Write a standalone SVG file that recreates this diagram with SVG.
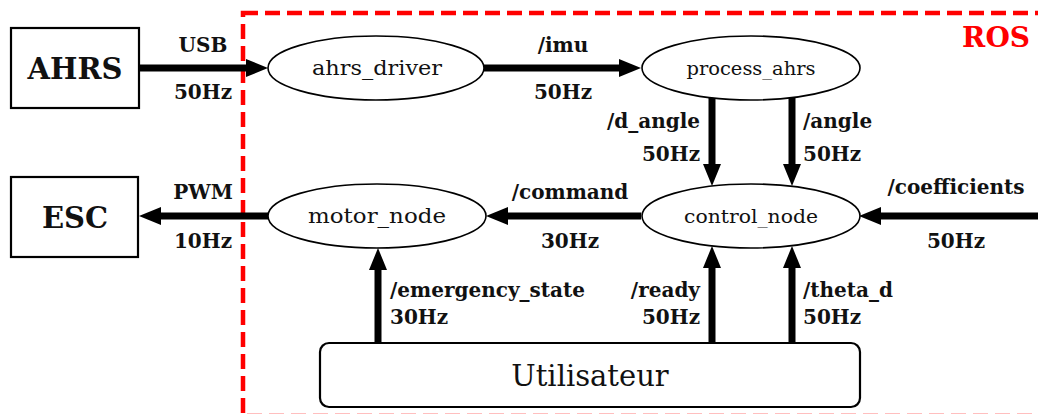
<svg xmlns="http://www.w3.org/2000/svg" width="1038" height="414" viewBox="0 0 1038 414">
<defs>
<style>
.box{fill:#fff;stroke:#000;stroke-width:2.2}
.ell{fill:#fff;stroke:#000;stroke-width:1.6}
.lbl{font-family:"DejaVu Serif","Liberation Serif",serif;font-weight:bold;font-size:20px;fill:#111}
.big{font-family:"DejaVu Serif","Liberation Serif",serif;font-weight:bold;font-size:29px;fill:#111}
.nd{font-family:"DejaVu Serif","Liberation Serif",serif;font-size:20px;fill:#111}
.nds{font-family:"DejaVu Serif","Liberation Serif",serif;font-size:18px;fill:#111}
.edge{stroke:#000;stroke-width:7;fill:none}
.ros{fill:none;stroke:#ff0000;stroke-width:4.5;stroke-dasharray:15 7}
</style>
<marker id="arr" markerUnits="userSpaceOnUse" markerWidth="24" markerHeight="20" refX="10" refY="9" orient="auto">
<path d="M0,0 L22,9 L0,18 z" fill="#000"/>
</marker>
</defs>
<rect width="1038" height="414" fill="#fff"/>
<g id="ros">
<rect class="ros" x="243" y="13" width="820" height="403"/>
<text x="1030" y="47" text-anchor="end" style="font-family:'DejaVu Serif','Liberation Serif',serif;font-weight:bold;font-size:28px;fill:#ff0000">ROS</text>
</g>
<g id="connectors">
<line class="edge" x1="139" y1="68" x2="256" y2="68" marker-end="url(#arr)"/>
<line class="edge" x1="484" y1="68" x2="629" y2="68" marker-end="url(#arr)"/>
<line class="edge" x1="712" y1="96" x2="712" y2="174" marker-end="url(#arr)"/>
<line class="edge" x1="792" y1="96" x2="792" y2="174" marker-end="url(#arr)"/>
<line class="edge" x1="641" y1="216" x2="498" y2="216" marker-end="url(#arr)"/>
<line class="edge" x1="1038" y1="216" x2="871" y2="216" marker-end="url(#arr)"/>
<line class="edge" x1="268" y1="216" x2="151" y2="216" marker-end="url(#arr)"/>
<line class="edge" x1="378" y1="343" x2="378" y2="260" marker-end="url(#arr)"/>
<line class="edge" x1="712" y1="343" x2="712" y2="258" marker-end="url(#arr)"/>
<line class="edge" x1="792" y1="343" x2="792" y2="258" marker-end="url(#arr)"/>
<text class="lbl" x="203" y="52" text-anchor="middle">USB</text>
<text class="lbl" x="203" y="99" text-anchor="middle">50Hz</text>
<text class="lbl" x="563" y="52" text-anchor="middle">/imu</text>
<text class="lbl" x="563" y="99" text-anchor="middle">50Hz</text>
<text class="lbl" x="700" y="128" text-anchor="end">/d_angle</text>
<text class="lbl" x="700" y="161" text-anchor="end">50Hz</text>
<text class="lbl" x="803" y="128">/angle</text>
<text class="lbl" x="803" y="161">50Hz</text>
<text class="lbl" x="203" y="199" text-anchor="middle">PWM</text>
<text class="lbl" x="203" y="248" text-anchor="middle">10Hz</text>
<text class="lbl" x="570" y="199" text-anchor="middle">/command</text>
<text class="lbl" x="570" y="248" text-anchor="middle">30Hz</text>
<text class="lbl" x="956" y="194" text-anchor="middle">/coefficients</text>
<text class="lbl" x="956" y="248" text-anchor="middle">50Hz</text>
<text class="lbl" x="390" y="297">/emergency_state</text>
<text class="lbl" x="390" y="324">30Hz</text>
<text class="lbl" x="700" y="297" text-anchor="end">/ready</text>
<text class="lbl" x="700" y="324" text-anchor="end">50Hz</text>
<text class="lbl" x="803" y="297">/theta_d</text>
<text class="lbl" x="803" y="324">50Hz</text>
</g>
<g id="AHRS">
<rect class="box" x="11" y="28" width="128" height="80"/>
<text class="big" x="75" y="79" text-anchor="middle">AHRS</text>
</g>
<g id="ESC">
<rect class="box" x="11" y="177" width="127" height="80"/>
<text class="big" x="75" y="228" text-anchor="middle">ESC</text>
</g>
<g id="ahrs_driver">
<ellipse class="ell" cx="376" cy="68" rx="108" ry="32"/>
<text class="nd" x="377" y="75" text-anchor="middle" textLength="130" lengthAdjust="spacingAndGlyphs">ahrs_driver</text>
</g>
<g id="process_ahrs">
<ellipse class="ell" cx="751" cy="68" rx="109" ry="32"/>
<text class="nds" x="751" y="75" text-anchor="middle" textLength="129" lengthAdjust="spacingAndGlyphs">process_ahrs</text>
</g>
<g id="motor_node">
<ellipse class="ell" cx="377" cy="216" rx="109" ry="32"/>
<text class="nd" x="377" y="223" text-anchor="middle" textLength="138" lengthAdjust="spacingAndGlyphs">motor_node</text>
</g>
<g id="control_node">
<ellipse class="ell" cx="751" cy="216" rx="109" ry="32"/>
<text class="nds" x="751" y="223" text-anchor="middle" textLength="134" lengthAdjust="spacingAndGlyphs">control_node</text>
</g>
<g id="Utilisateur">
<rect class="box" x="320" y="343" width="540" height="64" rx="9"/>
<text x="590" y="386" text-anchor="middle" style="font-family:'DejaVu Serif','Liberation Serif',serif;font-size:29px;fill:#111">Utilisateur</text>
</g>
</svg>
